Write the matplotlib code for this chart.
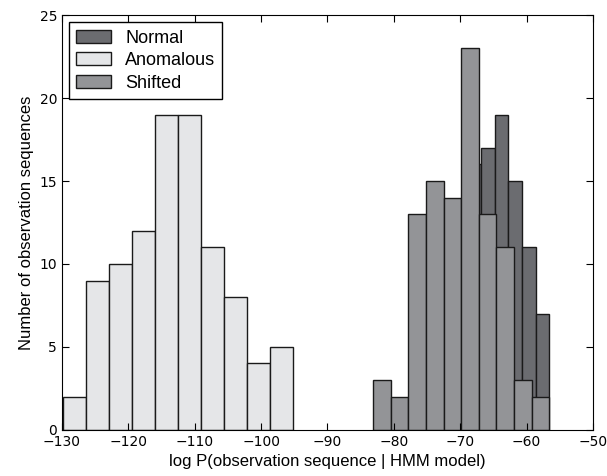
import numpy as np
import matplotlib
matplotlib.use("Agg")
import matplotlib.pyplot as plt

plt.rcParams['font.family'] = ['Liberation Sans', 'DejaVu Sans']

# histogram counts
normal_counts = [1, 1, 4, 9, 16, 17, 19, 15, 11, 7]
normal_range = (-77.2, -56.6)
anomalous_counts = [2, 9, 10, 12, 19, 19, 11, 8, 4, 5]
anomalous_range = (-129.9, -95.2)
shifted_counts = [3, 2, 13, 15, 14, 23, 13, 11, 3, 2]
shifted_range = (-83.1, -56.6)

fig = plt.figure(figsize=(6.07, 4.76), dpi=100)
ax = fig.add_axes([0.102, 0.097, 0.875, 0.871])

series = [
    ("Normal", normal_counts, normal_range, "#6b6c70"),
    ("Anomalous", anomalous_counts, anomalous_range, "#e5e6e8"),
    ("Shifted", shifted_counts, shifted_range, "#939497"),
]
for name, counts, rng, col in series:
    edges = np.linspace(rng[0], rng[1], len(counts) + 1)
    ax.bar(edges[:-1], counts, width=np.diff(edges), align='edge',
           color=col, edgecolor='#1a1a1a', linewidth=1.0, label=name)

ax.set_xlim(-130, -50)
ax.set_ylim(0, 25)
ax.set_xticks(np.arange(-130, -49, 10))
ax.set_yticks(np.arange(0, 26, 5))
ax.tick_params(direction='in', top=True, right=True, length=5, labelsize=10)
for lbl in ax.get_xticklabels() + ax.get_yticklabels():
    lbl.set_fontfamily('DejaVu Sans')
ax.set_xlabel("log P(observation sequence | HMM model)", fontsize=12)
ax.set_ylabel("Number of observation sequences", fontsize=12)

leg = ax.legend(loc='upper left', fontsize=13, fancybox=False, framealpha=1,
                edgecolor='black', borderaxespad=0.4, handlelength=1.9,
                labelspacing=0.3)
leg.get_frame().set_linewidth(1.0)

fig.savefig("out.png", dpi=100)
